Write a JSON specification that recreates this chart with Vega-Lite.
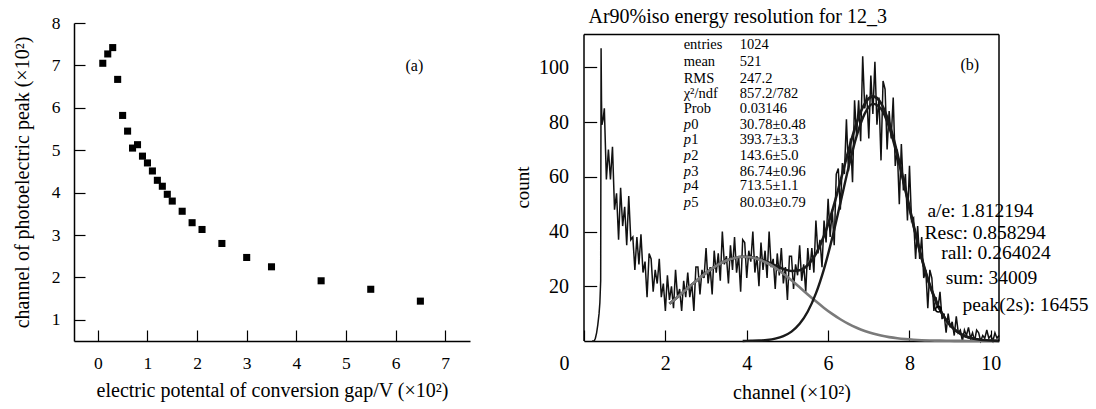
{
  "$schema": "https://vega.github.io/schema/vega-lite/v6.json",
  "padding": {"left": 12, "top": 6, "right": 0, "bottom": 0},
  "spacing": 43,
  "config": {
    "font": "Liberation Serif",
    "view": {"stroke": null},
    "axis": {"grid": false, "domainColor": "#000", "tickColor": "#000", "labelColor": "#000", "titleColor": "#000", "titleFontWeight": "normal", "labelFont": "Liberation Serif", "titleFont": "Liberation Serif", "domainWidth": 1.5, "tickWidth": 1.2, "labelFlush": false, "labelOverlap": false},
    "title": {"font": "Liberation Serif", "fontWeight": "normal", "color": "#000", "fontSize": 20},
    "text": {"font": "Liberation Serif"}
  },
  "datasets": {
    "pts": [
      {"v": 0.1, "ch": 7.05}, {"v": 0.2, "ch": 7.27}, {"v": 0.3, "ch": 7.42}, {"v": 0.4, "ch": 6.67},
      {"v": 0.5, "ch": 5.82}, {"v": 0.6, "ch": 5.45}, {"v": 0.7, "ch": 5.05}, {"v": 0.8, "ch": 5.13},
      {"v": 0.9, "ch": 4.86}, {"v": 1.0, "ch": 4.70}, {"v": 1.1, "ch": 4.51}, {"v": 1.2, "ch": 4.29},
      {"v": 1.3, "ch": 4.15}, {"v": 1.4, "ch": 3.96}, {"v": 1.5, "ch": 3.80}, {"v": 1.7, "ch": 3.56},
      {"v": 1.9, "ch": 3.29}, {"v": 2.1, "ch": 3.13}, {"v": 2.5, "ch": 2.80}, {"v": 3.0, "ch": 2.47},
      {"v": 3.5, "ch": 2.25}, {"v": 4.5, "ch": 1.92}, {"v": 5.5, "ch": 1.72}, {"v": 6.5, "ch": 1.44}
    ],
    "hist": [
      {"c":0.20,"n":0},{"c":0.25,"n":0},{"c":0.28,"n":1},{"c":0.31,"n":3},{"c":0.34,"n":6},{"c":0.37,"n":10},{"c":0.39,"n":14},{"c":0.41,"n":22},{"c":0.42,"n":107},{"c":0.43,"n":88},{"c":0.44,"n":79},{"c":0.47,"n":81},
      {"c":0.50,"n":85},{"c":0.55,"n":59},{"c":0.60,"n":70},{"c":0.65,"n":59},{"c":0.70,"n":71},{"c":0.75,"n":48},{"c":0.80,"n":54},{"c":0.85,"n":37},{"c":0.90,"n":56},{"c":0.95,"n":42},
      {"c":1.00,"n":49},{"c":1.05,"n":35},{"c":1.10,"n":53},{"c":1.15,"n":37},{"c":1.20,"n":38},{"c":1.25,"n":26},{"c":1.30,"n":38},{"c":1.35,"n":28},{"c":1.40,"n":39},{"c":1.45,"n":25},
      {"c":1.50,"n":29},{"c":1.55,"n":16},{"c":1.60,"n":32},{"c":1.65,"n":30},{"c":1.70,"n":18},{"c":1.75,"n":26},{"c":1.80,"n":21},{"c":1.85,"n":30},{"c":1.90,"n":16},{"c":1.95,"n":21},
      {"c":2.00,"n":11},{"c":2.05,"n":24},{"c":2.10,"n":15},{"c":2.15,"n":20},{"c":2.20,"n":12},{"c":2.25,"n":26},{"c":2.30,"n":16},{"c":2.35,"n":19},{"c":2.40,"n":11},{"c":2.45,"n":22},
      {"c":2.50,"n":16},{"c":2.55,"n":25},{"c":2.60,"n":16},{"c":2.65,"n":21},{"c":2.70,"n":11},{"c":2.75,"n":27},{"c":2.80,"n":27},{"c":2.85,"n":17},{"c":2.90,"n":26},{"c":2.95,"n":23},
      {"c":3.00,"n":34},{"c":3.05,"n":21},{"c":3.10,"n":27},{"c":3.15,"n":17},{"c":3.20,"n":33},{"c":3.25,"n":25},{"c":3.30,"n":32},{"c":3.35,"n":22},{"c":3.40,"n":40},{"c":3.45,"n":28},
      {"c":3.50,"n":31},{"c":3.55,"n":21},{"c":3.60,"n":35},{"c":3.65,"n":26},{"c":3.70,"n":38},{"c":3.75,"n":25},{"c":3.80,"n":31},{"c":3.85,"n":18},{"c":3.90,"n":37},{"c":3.95,"n":36},
      {"c":4.00,"n":23},{"c":4.05,"n":33},{"c":4.10,"n":29},{"c":4.15,"n":40},{"c":4.20,"n":25},{"c":4.25,"n":31},{"c":4.30,"n":20},{"c":4.35,"n":36},{"c":4.40,"n":26},{"c":4.45,"n":33},
      {"c":4.50,"n":23},{"c":4.55,"n":40},{"c":4.60,"n":27},{"c":4.65,"n":30},{"c":4.70,"n":19},{"c":4.75,"n":32},{"c":4.80,"n":24},{"c":4.85,"n":34},{"c":4.90,"n":21},{"c":4.95,"n":27},
      {"c":5.00,"n":15},{"c":5.05,"n":31},{"c":5.10,"n":31},{"c":5.15,"n":19},{"c":5.20,"n":28},{"c":5.25,"n":24},{"c":5.30,"n":35},{"c":5.35,"n":22},{"c":5.40,"n":28},{"c":5.45,"n":18},
      {"c":5.50,"n":34},{"c":5.55,"n":26},{"c":5.60,"n":34},{"c":5.65,"n":25},{"c":5.70,"n":44},{"c":5.75,"n":32},{"c":5.80,"n":37},{"c":5.85,"n":27},{"c":5.90,"n":44},{"c":5.95,"n":36},
      {"c":6.00,"n":52},{"c":6.05,"n":38},{"c":6.10,"n":48},{"c":6.15,"n":35},{"c":6.20,"n":61},{"c":6.25,"n":63},{"c":6.30,"n":48},{"c":6.35,"n":65},{"c":6.40,"n":61},{"c":6.45,"n":81},
      {"c":6.50,"n":62},{"c":6.55,"n":74},{"c":6.60,"n":58},{"c":6.65,"n":88},{"c":6.70,"n":75},{"c":6.75,"n":88},{"c":6.80,"n":73},{"c":6.85,"n":104},{"c":6.90,"n":85},{"c":6.95,"n":90},
      {"c":7.00,"n":74},{"c":7.05,"n":97},{"c":7.10,"n":83},{"c":7.15,"n":102},{"c":7.20,"n":79},{"c":7.25,"n":89},{"c":7.30,"n":66},{"c":7.35,"n":95},{"c":7.40,"n":92},{"c":7.45,"n":70},
      {"c":7.50,"n":84},{"c":7.55,"n":74},{"c":7.60,"n":89},{"c":7.65,"n":64},{"c":7.70,"n":70},{"c":7.75,"n":50},{"c":7.80,"n":72},{"c":7.85,"n":55},{"c":7.90,"n":61},{"c":7.95,"n":44},
      {"c":8.00,"n":64},{"c":8.05,"n":44},{"c":8.10,"n":45},{"c":8.15,"n":30},{"c":8.20,"n":42},{"c":8.25,"n":30},{"c":8.30,"n":38},{"c":8.35,"n":23},{"c":8.40,"n":26},{"c":8.45,"n":12},
      {"c":8.50,"n":26},{"c":8.55,"n":23},{"c":8.60,"n":11},{"c":8.65,"n":16},{"c":8.70,"n":12},{"c":8.75,"n":18},{"c":8.80,"n":8},{"c":8.85,"n":10},{"c":8.90,"n":3},{"c":8.95,"n":10},
      {"c":9.00,"n":5},{"c":9.05,"n":7},{"c":9.10,"n":2},{"c":9.15,"n":9},{"c":9.20,"n":3},{"c":9.25,"n":4},{"c":9.30,"n":0},{"c":9.35,"n":4},{"c":9.40,"n":2},{"c":9.45,"n":5},
      {"c":9.50,"n":1},{"c":9.55,"n":3},{"c":9.60,"n":0},{"c":9.65,"n":4},{"c":9.70,"n":3},{"c":9.75,"n":0},{"c":9.80,"n":2},{"c":9.85,"n":1},{"c":9.90,"n":4},{"c":9.95,"n":1},
      {"c":10.00,"n":2},{"c":10.05,"n":0},{"c":10.10,"n":3},{"c":10.15,"n":1},{"c":10.20,"n":2}
    ],
    "fit": [
      {"c":2.1,"s":13.58,"g1":13.58,"g2":0},{"c":2.3,"s":16.07,"g1":16.07,"g2":0},{"c":2.5,"s":18.66,"g1":18.66,"g2":0},
      {"c":2.7,"s":21.24,"g1":21.24,"g2":0},{"c":2.9,"s":23.71,"g1":23.71,"g2":0},{"c":3.1,"s":25.97,"g1":25.97,"g2":0},
      {"c":3.3,"s":27.90,"g1":27.90,"g2":0},{"c":3.5,"s":29.39,"g1":29.39,"g2":0},{"c":3.7,"s":30.36,"g1":30.36,"g2":0},
      {"c":3.9,"s":30.79,"g1":30.77,"g2":0.02},{"c":4.1,"s":30.65,"g1":30.58,"g2":0.07},{"c":4.3,"s":29.97,"g1":29.81,"g2":0.16},
      {"c":4.5,"s":28.88,"g1":28.50,"g2":0.38},{"c":4.7,"s":27.58,"g1":26.73,"g2":0.85},{"c":4.9,"s":26.34,"g1":24.58,"g2":1.76},
      {"c":5.1,"s":25.59,"g1":22.17,"g2":3.42},{"c":5.3,"s":25.88,"g1":19.62,"g2":6.26},{"c":5.5,"s":27.78,"g1":17.02,"g2":10.76},
      {"c":5.7,"s":31.87,"g1":14.49,"g2":17.38},{"c":5.9,"s":38.46,"g1":12.09,"g2":26.37},{"c":6.1,"s":47.48,"g1":9.90,"g2":37.58},
      {"c":6.3,"s":58.28,"g1":7.95,"g2":50.33},{"c":6.5,"s":69.58,"g1":6.26,"g2":63.32},{"c":6.7,"s":79.67,"g1":4.84,"g2":74.83},
      {"c":6.9,"s":86.74,"g1":3.66,"g2":83.08},{"c":7.1,"s":89.38,"g1":2.72,"g2":86.66},{"c":7.3,"s":86.90,"g1":1.98,"g2":84.92},
      {"c":7.5,"s":79.59,"g1":1.42,"g2":78.17},{"c":7.7,"s":68.59,"g1":0.99,"g2":67.60},{"c":7.9,"s":55.61,"g1":0.68,"g2":54.93},
      {"c":8.1,"s":42.39,"g1":0.46,"g2":41.93},{"c":8.3,"s":30.36,"g1":0.30,"g2":30.06},{"c":8.5,"s":20.45,"g1":0.20,"g2":20.25},
      {"c":8.7,"s":12.95,"g1":0.13,"g2":12.82},{"c":8.9,"s":7.70,"g1":0.08,"g2":7.62},{"c":9.1,"s":4.31,"g1":0.05,"g2":4.26},
      {"c":9.3,"s":2.26,"g1":0.03,"g2":2.23},{"c":9.5,"s":1.12,"g1":0.02,"g2":1.10},{"c":9.7,"s":0.52,"g1":0.01,"g2":0.51},
      {"c":9.9,"s":0.23,"g1":0.01,"g2":0.22},{"c":10.1,"s":0.09,"g1":0.0,"g2":0.09},{"c":10.2,"s":0.06,"g1":0.0,"g2":0.06}
    ],
    "stats": [
      {"k":"entries","v":"1024","y":108.1,"p":false},
      {"k":"mean","v":"521","y":101.8,"p":false},
      {"k":"RMS","v":" 247.2","y":95.9,"p":false},
      {"k":"χ²/ndf","v":" 857.2/782","y":90.4,"p":false},
      {"k":"Prob","v":" 0.03146","y":84.6,"p":false},
      {"k":"0","v":"  30.78±0.48","y":78.9,"p":true},
      {"k":"1","v":"  393.7±3.3","y":73.4,"p":true},
      {"k":"2","v":"  143.6±5.0","y":67.5,"p":true},
      {"k":"3","v":"  86.74±0.96","y":61.8,"p":true},
      {"k":"4","v":"  713.5±1.1","y":56.6,"p":true},
      {"k":"5","v":"  80.03±0.79","y":50.6,"p":true}
    ],
    "notes": [
      {"t":"a/e: 1.812194","x":8.44,"y":47.6},
      {"t":"Resc: 0.858294","x":8.37,"y":39.5},
      {"t":"rall: 0.264024","x":8.78,"y":32.2},
      {"t":"sum: 34009","x":8.89,"y":22.9},
      {"t":"peak(2s): 16455","x":9.30,"y":13.1}
    ]
  },
  "hconcat": [
    {
      "width": 396,
      "height": 318,
      "layer": [
        {
          "data": {"name": "pts"},
          "mark": {"type": "square", "size": 50, "color": "#000", "opacity": 1, "filled": true},
          "encoding": {
            "x": {"field": "v", "type": "quantitative", "scale": {"domain": [-0.48, 7.5], "nice": false, "zero": false},
              "axis": {"values": [0,1,2,3,4,5,6,7], "tickSize": -11, "labelPadding": 24, "labelFontSize": 17.5, "title": "electric potental of conversion gap/V (×10²)", "titleFontSize": 20, "titlePadding": 9}},
            "y": {"field": "ch", "type": "quantitative", "scale": {"domain": [0.5, 8], "nice": false, "zero": false},
              "axis": {"values": [1,2,3,4,5,6,7,8], "tickSize": -11, "labelPadding": 25, "labelFontSize": 17.5, "title": "channel of photoelectric peak (×10²)", "titleFontSize": 20, "titlePadding": 19}}
          }
        },
        {
          "data": {"values": [{"x": 6.38, "y": 6.98, "t": "(a)"}]},
          "mark": {"type": "text", "fontSize": 16, "color": "#000"},
          "encoding": {"x": {"field": "x", "type": "quantitative"}, "y": {"field": "y", "type": "quantitative"}, "text": {"field": "t"}}
        }
      ]
    },
    {
      "width": 415,
      "height": 318,
      "title": {"text": "Ar90%iso energy resolution for 12_3", "anchor": "start", "frame": "group", "fontSize": 20, "dx": 4.5, "offset": -3.5},
      "layer": [
        {
          "data": {"name": "hist"},
          "mark": {"type": "line", "color": "#111", "strokeWidth": 1.5},
          "encoding": {
            "x": {"field": "c", "type": "quantitative", "scale": {"domain": [0, 10.2], "nice": false, "zero": false},
              "axis": {"values": [0,2,4,6,8,10], "tickSize": -11, "labelPadding": 23, "labelFontSize": 20, "labelOffset": {"condition": {"test": "datum.value == 0", "value": -20}, "value": 0}, "title": "channel  (×10²)", "titleFontSize": 20, "titlePadding": 9}},
            "y": {"field": "n", "type": "quantitative", "scale": {"domain": [0, 116.2], "nice": false, "zero": false},
              "axis": {"values": [20,40,60,80,100], "domain": false, "tickSize": -12.7, "labelPadding": 28.2, "labelFontSize": 20, "title": "count", "titleFontSize": 19, "titlePadding": 6.5, "titleY": 164}}
          }
        },
        {
          "data": {"name": "fit"},
          "mark": {"type": "line", "color": "#1a1a1a", "strokeWidth": 2.6, "interpolate": "monotone"},
          "encoding": {"x": {"field": "c", "type": "quantitative"}, "y": {"field": "s", "type": "quantitative"}}
        },
        {
          "data": {"name": "fit"},
          "mark": {"type": "line", "color": "#7a7a7a", "strokeWidth": 2.6, "interpolate": "monotone"},
          "encoding": {"x": {"field": "c", "type": "quantitative"}, "y": {"field": "g1", "type": "quantitative"}}
        },
        {
          "data": {"name": "fit"},
          "transform": [{"filter": "datum.c >= 3.9"}],
          "mark": {"type": "line", "color": "#1a1a1a", "strokeWidth": 2.4, "interpolate": "monotone"},
          "encoding": {"x": {"field": "c", "type": "quantitative"}, "y": {"field": "g2", "type": "quantitative"}}
        },
        {
          "data": {"values": [{}]},
          "mark": {"type": "rule", "color": "#000", "strokeWidth": 1.5},
          "encoding": {"x": {"datum": 0}, "y": {"datum": 0}, "y2": {"datum": 112}}
        },
        {
          "data": {"values": [{}]},
          "mark": {"type": "rule", "color": "#000", "strokeWidth": 1.5},
          "encoding": {"x": {"datum": 10.2}, "y": {"datum": 0}, "y2": {"datum": 112}}
        },
        {
          "data": {"values": [{}]},
          "mark": {"type": "rule", "color": "#000", "strokeWidth": 1.5},
          "encoding": {"x": {"datum": 0}, "x2": {"datum": 10.2}, "y": {"datum": 112}}
        },
        {
          "data": {"name": "stats"},
          "transform": [{"filter": "!datum.p"}],
          "mark": {"type": "text", "align": "left", "baseline": "middle", "fontSize": 14.5, "color": "#000"},
          "encoding": {"x": {"datum": 2.45}, "y": {"field": "y", "type": "quantitative"}, "text": {"field": "k"}}
        },
        {
          "data": {"name": "stats"},
          "transform": [{"filter": "datum.p"}],
          "mark": {"type": "text", "align": "left", "baseline": "middle", "fontSize": 14.5, "fontStyle": "italic", "color": "#000"},
          "encoding": {"x": {"datum": 2.45}, "y": {"field": "y", "type": "quantitative"}, "text": {"value": "p"}}
        },
        {
          "data": {"name": "stats"},
          "transform": [{"filter": "datum.p"}],
          "mark": {"type": "text", "align": "left", "baseline": "middle", "fontSize": 14.5, "dx": 7.5, "color": "#000"},
          "encoding": {"x": {"datum": 2.45}, "y": {"field": "y", "type": "quantitative"}, "text": {"field": "k"}}
        },
        {
          "data": {"name": "stats"},
          "mark": {"type": "text", "align": "left", "baseline": "middle", "fontSize": 14.5, "color": "#000"},
          "encoding": {"x": {"datum": 3.83}, "y": {"field": "y", "type": "quantitative"}, "text": {"field": "v"}}
        },
        {
          "data": {"name": "notes"},
          "mark": {"type": "text", "align": "left", "baseline": "middle", "fontSize": 19.5, "color": "#000"},
          "encoding": {"x": {"field": "x", "type": "quantitative"}, "y": {"field": "y", "type": "quantitative"}, "text": {"field": "t"}}
        },
        {
          "data": {"values": [{"x": 9.48, "y": 100.8, "t": "(b)"}]},
          "mark": {"type": "text", "fontSize": 16, "color": "#000"},
          "encoding": {"x": {"field": "x", "type": "quantitative"}, "y": {"field": "y", "type": "quantitative"}, "text": {"field": "t"}}
        },
        {
          "data": {"values": [{"x": 8.71, "y": 11.6}]},
          "mark": {"type": "point", "shape": "circle", "size": 30, "filled": false, "stroke": "#000", "strokeWidth": 1.5, "opacity": 1},
          "encoding": {"x": {"field": "x", "type": "quantitative"}, "y": {"field": "y", "type": "quantitative"}}
        }
      ]
    }
  ]
}
